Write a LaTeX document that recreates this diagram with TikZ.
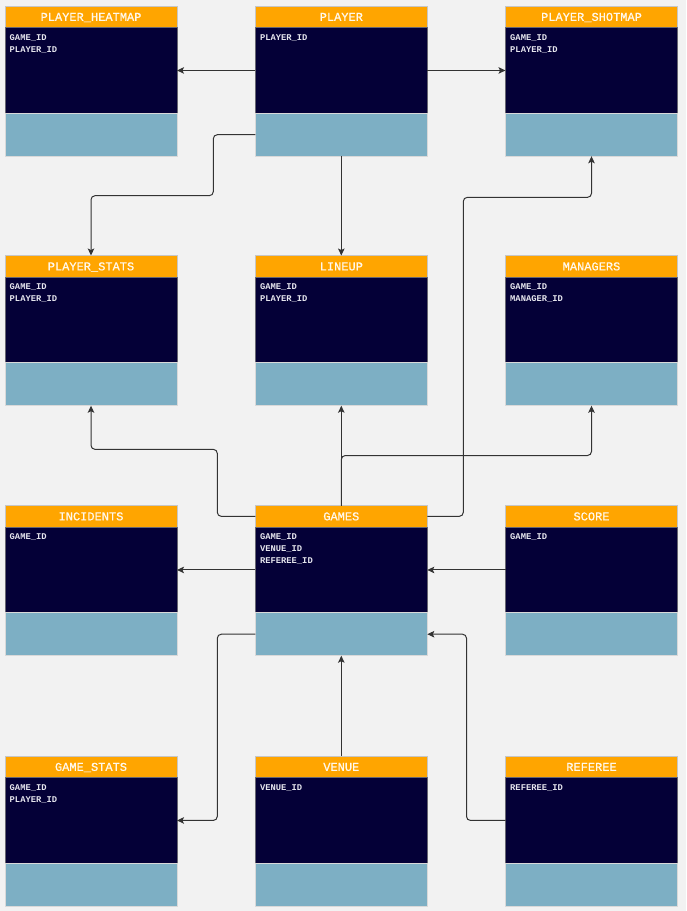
\documentclass[tikz,border=0pt]{standalone}
\usepackage{fontspec}
\setmonofont{Liberation Mono}
\newfontfamily\titlemono[FakeBold=0.6]{Liberation Mono}
\usetikzlibrary{arrows.meta}

\definecolor{canvas}{HTML}{F2F2F2}
\definecolor{hdrfill}{HTML}{FFA500}
\definecolor{bodyfill}{HTML}{040037}
\definecolor{lowfill}{HTML}{7DAFC4}
\definecolor{edgeline}{HTML}{333333}
\definecolor{fieldink}{HTML}{E6E6EE}
\definecolor{titleink}{HTML}{FFF8EC}

\tikzset{
  part/.style={rectangle, inner sep=0pt, outer sep=0pt, minimum width=172pt,
               draw=gray!45, line width=0.6pt},
  hdr/.style={part, fill=hdrfill, minimum height=21.7pt, anchor=north west},
  bdy/.style={part, fill=bodyfill, draw=gray!80!bodyfill, minimum height=85.5pt, anchor=north},
  low/.style={part, fill=lowfill, draw=gray!30, minimum height=43pt, anchor=north},
  hdrtext/.style={font=\titlemono\fontsize{12}{12}\selectfont, text=titleink, inner sep=0pt},
  fieldtext/.style={font=\ttfamily\bfseries\fontsize{8.8}{8.8}\selectfont, text=fieldink, inner sep=0pt},
  link/.style={draw=edgeline, line width=1pt, rounded corners=4pt,
               -{Stealth[length=7pt,width=6.5pt,inset=1.5pt]}},
}

% table: name, left x, top y, title, field list
\newcommand\erTable[5]{%
  \node[hdr] (#1-h) at (#2,#3) {};
  \node[bdy] (#1-b) at (#1-h.south) {};
  \node[low] (#1-l) at (#1-b.south) {};
  \node[hdrtext, anchor=base, yshift=-4pt] (#1-t) at (#1-h.center) {#4};
  \foreach \f [count=\i] in {#5}
    \node[fieldtext, anchor=base west] (#1-f\i)
      at ([xshift=4.5pt, yshift={-0.6pt-12pt*\i}]#1-b.north west) {\f};
}

\begin{document}
\begin{tikzpicture}[x=1pt, y=-1pt]
  \fill[canvas] (0,0) rectangle (686,911);
  \useasboundingbox (0,0) rectangle (686,911);

  % row 1
  \erTable{heatmap}{5}{6}{PLAYER\_HEATMAP}{GAME\_ID,PLAYER\_ID}
  \erTable{player}{255.3}{6}{PLAYER}{PLAYER\_ID}
  \erTable{shotmap}{505.5}{6}{PLAYER\_SHOTMAP}{GAME\_ID,PLAYER\_ID}
  % row 2
  \erTable{pstats}{5}{255.5}{PLAYER\_STATS}{GAME\_ID,PLAYER\_ID}
  \erTable{lineup}{255.3}{255.5}{LINEUP}{GAME\_ID,PLAYER\_ID}
  \erTable{managers}{505.5}{255.5}{MANAGERS}{GAME\_ID,MANAGER\_ID}
  % row 3
  \erTable{incidents}{5}{505.5}{INCIDENTS}{GAME\_ID}
  \erTable{games}{255.3}{505.5}{GAMES}{GAME\_ID,VENUE\_ID,REFEREE\_ID}
  \erTable{score}{505.5}{505.5}{SCORE}{GAME\_ID}
  % row 4
  \erTable{gstats}{5}{756}{GAME\_STATS}{GAME\_ID,PLAYER\_ID}
  \erTable{venue}{255.3}{756}{VENUE}{VENUE\_ID}
  \erTable{referee}{505.5}{756}{REFEREE}{REFEREE\_ID}

  % relations from PLAYER
  \draw[link] (player-b.west) -- (heatmap-b.east);
  \draw[link] (player-b.east) -- (shotmap-b.west);
  \draw[link] (player-l.west) -- ++(-42,0) -- ++(0,61) -| (pstats-h.north);
  \draw[link] (player-l.south) -- (lineup-h.north);

  % relations from GAMES
  \draw[link] (games-h.west) -- ++(-38,0) -- ++(0,-67) -| (pstats-l.south);
  \draw[link] (games-h.north) -- (lineup-l.south);
  \draw[link] (games-h.north) -- ++(0,-50) -| (managers-l.south);
  \draw[link] (games-h.east) -- ++(36,0) -- ++(0,-319) -| (shotmap-l.south);
  \draw[link] (games-b.west) -- (incidents-b.east);
  \draw[link] (games-l.west) -- ++(-38,0) |- (gstats-b.east);

  % relations into GAMES
  \draw[link] (score-b.west) -- (games-b.east);
  \draw[link] (venue-h.north) -- (games-l.south);
  \draw[link] (referee-b.west) -- ++(-39,0) |- (games-l.east);
\end{tikzpicture}
\end{document}
